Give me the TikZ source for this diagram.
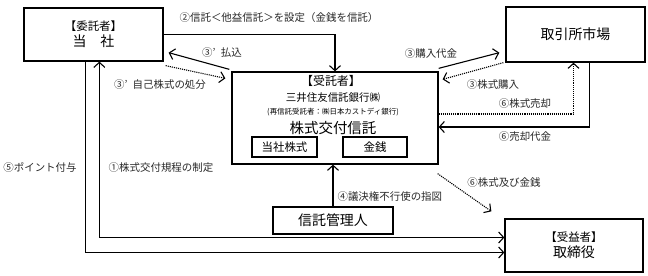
\documentclass[tikz,border=0pt]{standalone}
\usepackage{fontspec}
\setmainfont{Noto Sans CJK JP}
\usetikzlibrary{arrows.meta,calc}
\definecolor{txtgray}{RGB}{40,40,40}

\begin{document}
\begin{tikzpicture}[x=1bp,y=-1bp,line width=1.1pt,
  box/.style={draw,line width=1.3pt,inner sep=0pt,align=center},
  lbl/.style={txtgray,font=\fontsize{10.5}{12}\selectfont,inner sep=0pt},
  arr/.style={-{Straight Barb[length=5bp,width=11bp]}},
  dotarr/.style={densely dotted,-{Straight Barb[length=5bp,width=11bp]}}]
  \useasboundingbox (0,0) rectangle (648,275);
  % boxes
  \node[box,minimum width=139bp,minimum height=53bp] (itaku) at (93.5,34.5)
    {{\fontsize{11.5}{13}\selectfont 【委託者】}\\[2pt]{\fontsize{14}{15}\selectfont 当\hspace{1em}社}};
  \node[box,minimum width=139bp,minimum height=55bp,font=\fontsize{14}{15}\selectfont] (market) at (575.5,34.5) {取引所市場};
  \node[box,minimum width=206bp,minimum height=92bp] (trust) at (335,118) {};
  \node[font=\fontsize{12}{13}\selectfont] (tlabel) at (331,81) {【受託者】};
  \node[font=\fontsize{10.5}{12}\selectfont] (tbank) at (333,98) {三井住友信託銀行㈱};
  \node[font=\fontsize{7.5}{9}\selectfont] (tsub) at (333,112) {(再信託受託者：㈱日本カストディ銀行)};
  \node[font=\fontsize{14.5}{16}\selectfont] (tname) at (333,128) {株式交付信託};
  \node[box,minimum width=65bp,minimum height=20bp,font=\fontsize{11.5}{13}\selectfont] (stock) at (284.5,147) {当社株式};
  \node[box,minimum width=64bp,minimum height=20bp,font=\fontsize{11.5}{13}\selectfont] (money) at (375,147) {金銭};
  \node[box,minimum width=120bp,minimum height=27bp,font=\fontsize{14}{15}\selectfont] (kanri) at (333,220.5) {信託管理人};
  \node[box,minimum width=138bp,minimum height=53bp] (juekisha) at (574,245.5)
    {{\fontsize{11.5}{13}\selectfont 【受益者】}\\[2pt]{\fontsize{14}{15}\selectfont 取締役}};

  % connectors
  \draw[arr] (itaku.east) -| (trust.north);
  \draw[arr] ($(trust.north west)+(-2,-2)$) -- ($(itaku.south east)+(5,-9)$);
  \draw[dotarr] ($(itaku.south east)+(2,4)$) -- ($(trust.north west)+(-6,7)$);
  \draw[arr] ($(trust.north east)+(0,-3)$) -- ($(market.south west)+(-6,-10)$);
  \draw[dotarr] ($(market.south west)+(-2,0)$) -- ($(trust.north east)+(4,8)$);
  \draw[dotarr] ($(trust.east)+(0,-4)$) -| ($(market.south)+(-2,0)$);
  \draw[arr] ($(market.south)+(14,0)$) |- ($(trust.east)+(0,9)$);
  \draw[arr] (kanri.north) -- (kanri.north |- trust.south);
  \draw[dotarr] ($(trust.south east)+(-1,9)$) -- ($(juekisha.north west)+(-13,-7)$);
  \draw[arr] ($(itaku.south west)+(62,0)$) |- ($(juekisha.west)+(0,7)$);
  \draw[{Straight Barb[length=5bp,width=11bp]}-{Straight Barb[length=5bp,width=11bp]}]
    ($(itaku.south west)+(76,0)$) |- ($(juekisha.west)+(0,-8)$);

  % labels
  \node[lbl] (l2) at (279,18) {②信託＜他益信託＞を設定（金銭を信託）};
  \node[lbl] (l3a) at (222,53) {③’\hspace{0.5em}払込};
  \node[lbl] (l3b) at (160,85) {③’\hspace{0.5em}自己株式の処分};
  \node[lbl] (l3c) at (431,54) {③購入代金};
  \node[lbl] (l3d) at (493,85) {③株式購入};
  \node[lbl] (l6a) at (525,104) {⑥株式売却};
  \node[lbl] (l6b) at (525,137) {⑥売却代金};
  \node[lbl,anchor=west] (l4) at (337,197) {④議決権不行使の指図};
  \node[lbl] (l6c) at (504,183) {⑥株式及び金銭};
  \node[lbl] (l5) at (40,168) {⑤ポイント付与};
  \node[lbl] (l1) at (161,168) {①株式交付規程の制定};
\end{tikzpicture}
\end{document}
